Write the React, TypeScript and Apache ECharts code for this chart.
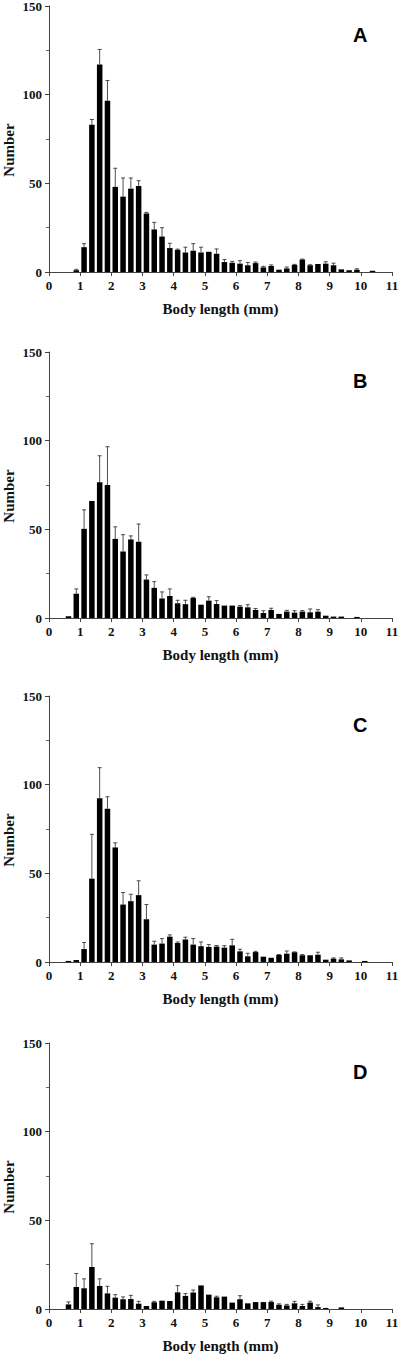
import React, { useEffect, useRef } from "react";
import * as echarts from "echarts";

const bins = [0.625, 0.875, 1.125, 1.375, 1.625, 1.875, 2.125, 2.375, 2.625, 2.875, 3.125, 3.375, 3.625, 3.875, 4.125, 4.375, 4.625, 4.875, 5.125, 5.375, 5.625, 5.875, 6.125, 6.375, 6.625, 6.875, 7.125, 7.375, 7.625, 7.875, 8.125, 8.375, 8.625, 8.875, 9.125, 9.375, 9.625, 9.875, 10.125, 10.375];

const valuesA = [0, 1, 14, 83, 117, 96.5, 48, 42.5, 47, 48.5, 33, 24, 20, 13.5, 12.5, 11, 12, 11, 11.4, 10.3, 5.6, 5.2, 4.7, 3.8, 5, 2.6, 3.4, 1.3, 2, 4, 7, 3.8, 4.5, 4.7, 3.8, 1.5, 1, 1.3, 0, 0.7];
const errorsA = [0, 0.5, 2, 3, 8.5, 11.5, 10.5, 10.5, 6, 3, 0.6, 4, 5, 2.7, 0.4, 3, 4, 3, 0, 2.7, 1.4, 0.8, 1.7, 1.6, 0.6, 0.6, 0.6, 0, 0.8, 0.3, 0.3, 0.3, 0, 1.1, 1.2, 0, 0, 0.5, 0, 0];

const valuesB = [1, 13.7, 50.3, 66, 76.5, 75, 44.6, 37.5, 44.3, 43, 21.7, 17, 11, 12.4, 8.3, 7.8, 11.3, 7.5, 9.8, 7.9, 7, 7, 6.4, 6, 4.5, 2.8, 4.5, 2.3, 3.6, 3, 3.6, 3.2, 3.6, 1.3, 0.8, 0.8, 0, 0.6, 0, 0];
const errorsB = [0, 2.7, 10.7, 0, 15, 21.6, 6.8, 9.5, 2, 10, 2.6, 3.5, 3.7, 4, 1.7, 2.2, 0.4, 0, 2.2, 1.9, 0, 0, 0.6, 1.5, 0.8, 1.3, 1, 0, 0.7, 1.1, 0.6, 1.9, 1.1, 0, 0, 0, 0, 0, 0, 0];

const valuesC = [0.6, 1.1, 7.3, 47, 92.3, 86.4, 64.6, 32.4, 34.3, 37.7, 24.1, 9.8, 10.4, 14.3, 10.7, 12.7, 9.8, 8.9, 8.5, 8.7, 8.1, 9.4, 6, 3.2, 5.6, 3, 2.4, 4, 4.7, 5.5, 3.8, 3.8, 4.1, 1.3, 1.9, 1.5, 0.9, 0, 0.6, 0];
const errorsC = [0, 0, 3.7, 25, 17.3, 6.8, 2.6, 6.8, 3.9, 8.1, 8.3, 1.9, 2.8, 1, 0.6, 1.3, 3.4, 2.4, 1.3, 0.6, 1.1, 3.4, 1.2, 1.7, 0.4, 0, 0, 0.2, 1.5, 0.2, 0.4, 0, 1.4, 0, 0.4, 0.8, 0, 0, 0, 0];

const valuesD = [2.6, 12.4, 11.7, 23.7, 13, 8.8, 6.4, 5.5, 5.6, 3, 1.7, 3.8, 4.7, 4.5, 9.4, 7.4, 9.3, 13.3, 8.1, 6.6, 7, 3.6, 5.5, 3.2, 3.9, 3.9, 3.9, 2.4, 2, 3.2, 1.7, 3.6, 1.1, 0.6, 0, 0.9, 0, 0, 0, 0];
const errorsD = [1.4, 7.6, 5.3, 13.1, 4, 4, 1.7, 1.3, 2.1, 1.3, 0, 0.5, 0, 0, 3.8, 1.3, 1.4, 0, 0, 0.6, 0, 0, 2, 0, 0, 0, 0.5, 0.5, 0.6, 1.1, 0.9, 0.8, 1.2, 0, 0, 0, 0, 0, 0, 0];

const panelLabels = ["A", "B", "C", "D"];
const xTitle = "Body length (mm)";
const yTitle = "Number";

const panels = [
  { values: valuesA, errors: errorsA },
  { values: valuesB, errors: errorsB },
  { values: valuesC, errors: errorsC },
  { values: valuesD, errors: errorsD },
];

const gridTops = [6, 352, 696, 1043];
const gridHeight = 266;
const serif = "'Liberation Serif', 'Times New Roman', serif";

export default function App() {
  const ref = useRef<HTMLDivElement>(null);
  useEffect(() => {
    if (!ref.current) return;
    const chart = echarts.init(ref.current, undefined, { renderer: "svg" });
    const grids: any[] = [];
    const xAxes: any[] = [];
    const yAxes: any[] = [];
    const series: any[] = [];
    const graphics: any[] = [];
    const axisLine = { show: true, lineStyle: { color: "#444", width: 1 } };
    const labelStyle = { fontFamily: serif, fontWeight: "bold", fontSize: 13, color: "#111" };
    panels.forEach((p, i) => {
      grids.push({ left: 49, top: gridTops[i], width: 343, height: gridHeight, containLabel: false, outerBoundsMode: "none" });
      xAxes.push({
        type: "value",
        gridIndex: i,
        min: 0,
        max: 11,
        interval: 1,
        name: xTitle,
        nameLocation: "middle",
        nameGap: 29,
        nameTextStyle: { fontFamily: serif, fontWeight: "bold", fontSize: 15, color: "#111" },
        axisLine,
        axisTick: { show: true, length: 4, lineStyle: { color: "#444" } },
        axisLabel: { ...labelStyle, margin: 7 },
        splitLine: { show: false },
      });
      yAxes.push({
        type: "value",
        gridIndex: i,
        min: 0,
        max: 150,
        interval: 50,
        axisLine,
        axisTick: { show: true, length: 4, lineStyle: { color: "#444" } },
        minorTick: { show: true, splitNumber: 2, length: 3, lineStyle: { color: "#666" } },
        axisLabel: { ...labelStyle, margin: 7 },
        splitLine: { show: false },
      });
      series.push({
        type: "bar",
        xAxisIndex: i,
        yAxisIndex: i,
        barWidth: 5.5,
        itemStyle: { color: "#000" },
        data: bins.map((b, k) => [b, p.values[k]]),
      });
      series.push({
        type: "custom",
        xAxisIndex: i,
        yAxisIndex: i,
        encode: { x: 0, y: 1 },
        data: bins.map((b, k) => [b, p.values[k], p.errors[k]]),
        renderItem: (params: any, api: any) => {
          const x = api.value(0);
          const y = api.value(1);
          const e = api.value(2);
          if (!(e > 0)) return null;
          const base = api.coord([x, y]);
          const top = api.coord([x, y + e]);
          const st = { stroke: "#222", lineWidth: 0.8 };
          return {
            type: "group",
            children: [
              { type: "line", shape: { x1: top[0], y1: base[1], x2: top[0], y2: top[1] }, style: st },
              { type: "line", shape: { x1: top[0] - 2, y1: top[1], x2: top[0] + 2, y2: top[1] }, style: st },
            ],
          };
        },
        z: 3,
      });
      graphics.push({
        type: "text",
        left: 353,
        top: gridTops[i] + 19,
        style: {
          text: panelLabels[i],
          font: "bold 20px 'Liberation Sans', Arial, sans-serif",
          fill: "#000",
        },
      });
      graphics.push({
        type: "text",
        x: 9,
        y: gridTops[i] + 144,
        rotation: Math.PI / 2,
        style: {
          text: yTitle,
          font: "bold 15px 'Liberation Serif', 'Times New Roman', serif",
          fill: "#111",
          align: "center",
          verticalAlign: "middle",
        },
      });
    });
    chart.setOption({
      animation: false,
      backgroundColor: "#fff",
      grid: grids,
      xAxis: xAxes,
      yAxis: yAxes,
      series,
      graphic: graphics,
    });
    return () => chart.dispose();
  }, []);
  return <div ref={ref} style={{ position: "absolute", left: 0, top: 0, width: 398, height: 1355 }} />;
}
